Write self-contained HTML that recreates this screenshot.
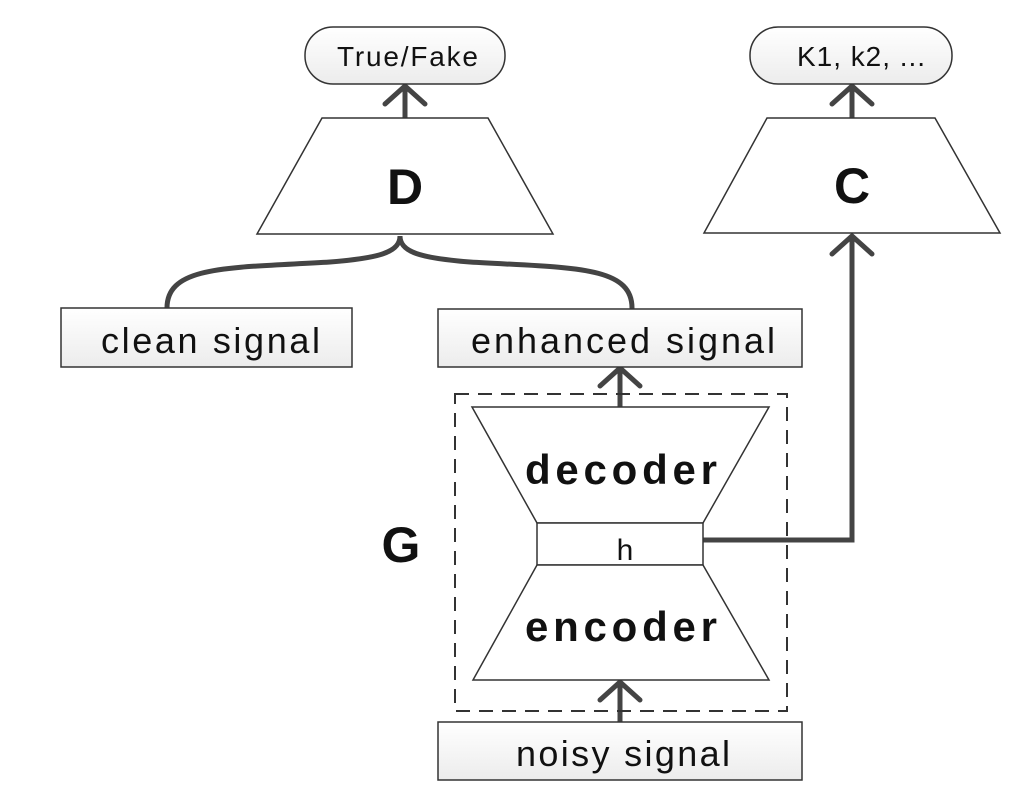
<!DOCTYPE html>
<html><head><style>body{margin:0;background:#fff}svg{display:block}</style></head>
<body>
<svg width="1020" height="812" viewBox="0 0 1020 812" xmlns="http://www.w3.org/2000/svg" font-family="Liberation Sans, sans-serif">
<defs>
<linearGradient id="g" x1="0" y1="0" x2="0" y2="1"><stop offset="0" stop-color="#ffffff"/><stop offset="1" stop-color="#ececec"/></linearGradient>
</defs>
<rect width="1020" height="812" fill="#fff"/>
<g fill="none" stroke="#444" stroke-width="5" stroke-linecap="round">
<line x1="405" y1="118" x2="405" y2="86"/><polyline points="385,104 405,86 425,104"/>
<line x1="852" y1="118" x2="852" y2="86"/><polyline points="832,104 852,86 872,104"/>
<line x1="620" y1="407" x2="620" y2="368"/><polyline points="600,386 620,368 640,386"/>
<line x1="620" y1="722" x2="620" y2="682"/><polyline points="600,700 620,682 640,700"/>
<polyline points="703,540 852,540 852,236" stroke-linecap="butt"/><polyline points="832,254 852,236 872,254"/>
<path d="M167,308 C167,265 230,268 330,262 C380,258 400,252 400,236 C400,252 420,258 470,262 C570,268 632,265 632,308"/>
</g>
<g stroke="#333" stroke-width="1.5">
<rect x="305" y="27" width="200" height="57" rx="28" fill="url(#g)"/>
<rect x="750" y="27" width="202" height="57" rx="28" fill="url(#g)"/>
<polygon points="322,118 488,118 553,234 257,234" fill="#fff"/>
<polygon points="767,118 935,118 1000,233 704,233" fill="#fff"/>
<rect x="61" y="308" width="291" height="59" fill="url(#g)"/>
<rect x="438" y="309" width="364" height="58" fill="url(#g)"/>
<rect x="438" y="722" width="364" height="58" fill="url(#g)"/>
<polygon points="472,407 769,407 703,523 537,523" fill="#fff"/>
<rect x="537" y="523" width="166" height="42" fill="#fff"/>
<polygon points="537,565 703,565 769,680 473,680" fill="#fff"/>
</g>
<rect x="455" y="394" width="332" height="317" fill="none" stroke="#333" stroke-width="2" stroke-dasharray="14,9"/>
<g fill="#111">
<text x="337" y="66" font-size="28" textLength="141" lengthAdjust="spacing">True/Fake</text>
<text x="797" y="66" font-size="28" textLength="128" lengthAdjust="spacing">K1, k2, ...</text>
<text x="405" y="204" font-size="50" font-weight="bold" text-anchor="middle">D</text>
<text x="852" y="203" font-size="50" font-weight="bold" text-anchor="middle">C</text>
<text x="101" y="353" font-size="36" textLength="219" lengthAdjust="spacing">clean signal</text>
<text x="471" y="353" font-size="36" textLength="304" lengthAdjust="spacing">enhanced signal</text>
<text x="516" y="766" font-size="36" textLength="214" lengthAdjust="spacing">noisy signal</text>
<text x="525" y="484" font-size="42" font-weight="bold" textLength="192" lengthAdjust="spacing">decoder</text>
<text x="525" y="641" font-size="42" font-weight="bold" textLength="192" lengthAdjust="spacing">encoder</text>
<text x="625" y="560" font-size="30" text-anchor="middle">h</text>
<text x="401" y="562" font-size="50" font-weight="bold" text-anchor="middle">G</text>
</g>
</svg>
</body></html>
